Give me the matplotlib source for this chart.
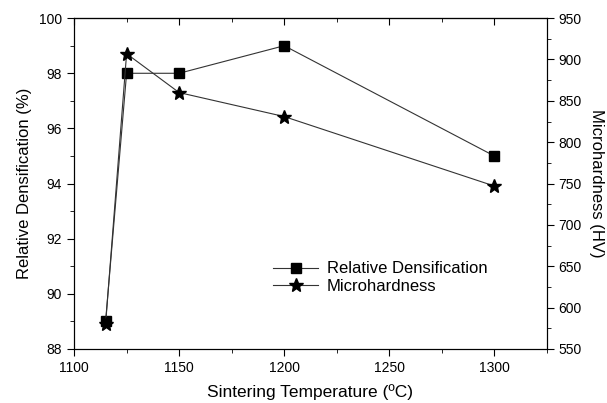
import matplotlib
matplotlib.use("Agg")
import matplotlib.pyplot as plt
from matplotlib.ticker import MultipleLocator

plt.rcParams['font.family'] = ['Liberation Sans', 'DejaVu Sans']

temp = [1115, 1125, 1150, 1200, 1300]
densification = [89, 98, 98, 99, 95]
microhardness = [580, 907, 860, 831, 747]

fig, ax = plt.subplots(figsize=(6.07, 4.03), dpi=100)
fig.subplots_adjust(left=0.122, right=0.901, top=0.955, bottom=0.134)

l1, = ax.plot(temp, densification, color='#333333', linewidth=0.8, marker='s',
              markersize=7, markerfacecolor='black', markeredgecolor='black',
              label='Relative Densification')
ax2 = ax.twinx()
l2, = ax2.plot(temp, microhardness, color='#333333', linewidth=0.8, marker='*',
               markersize=10, markerfacecolor='black', markeredgecolor='black',
               label='Microhardness')

ax.set_xlim(1100, 1325)
ax.set_ylim(88, 100)
ax2.set_ylim(550, 950)

ax.xaxis.set_major_locator(MultipleLocator(50))
ax.xaxis.set_minor_locator(MultipleLocator(25))
ax.yaxis.set_major_locator(MultipleLocator(2))
ax.yaxis.set_minor_locator(MultipleLocator(1))
ax2.yaxis.set_major_locator(MultipleLocator(50))
ax2.yaxis.set_minor_locator(MultipleLocator(25))

ax.tick_params(axis='x', which='both', direction='out', top=False)
ax.tick_params(axis='y', which='both', direction='out')
ax.tick_params(which='major', length=5, labelsize=10)
ax.tick_params(which='minor', length=3)
ax2.tick_params(which='major', length=5, labelsize=10, direction='out')
ax2.tick_params(which='minor', length=3, direction='out')

# top ticks pointing into the plot
top = ax.secondary_xaxis('top')
top.xaxis.set_major_locator(MultipleLocator(50))
top.xaxis.set_minor_locator(MultipleLocator(25))
top.tick_params(which='both', direction='in', labeltop=False)
top.tick_params(which='major', length=5)
top.tick_params(which='minor', length=3)

ax.set_xlabel('Sintering Temperature (ºC)', fontsize=12.5, labelpad=7)
ax.set_ylabel('Relative Densification (%)', fontsize=12, labelpad=5)
ax2.set_ylabel('Microhardness (HV)', fontsize=12, rotation=270, labelpad=16)

ax.legend(handles=[l1, l2], loc='upper left', bbox_to_anchor=(0.39, 0.31),
          frameon=False, fontsize=12, handlelength=2.7, handletextpad=0.5,
          labelspacing=0.15)

plt.savefig('out.png', dpi=100)
